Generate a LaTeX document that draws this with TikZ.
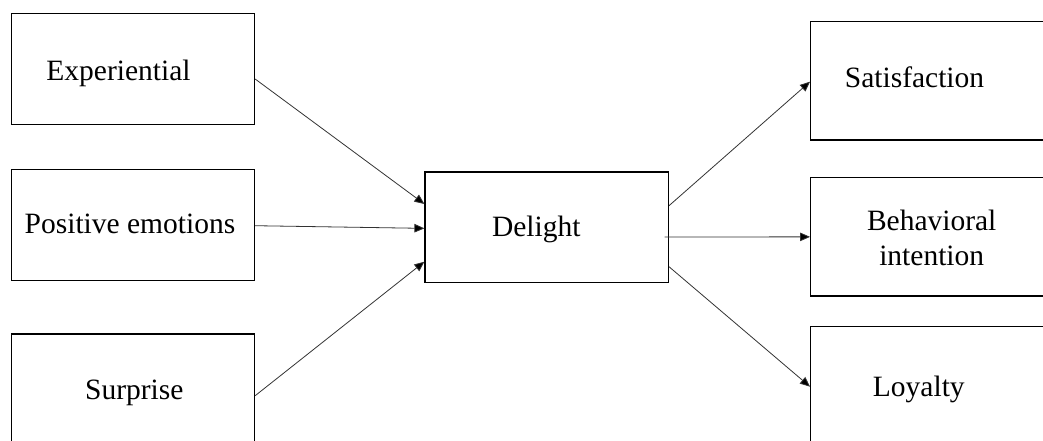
\documentclass[tikz,border=0pt]{standalone}
\usepackage{fontspec}
\setmainfont{Liberation Serif}
\usetikzlibrary{arrows.meta}
\begin{document}
\begin{tikzpicture}[x=1pt,y=-1pt,
  box/.style={draw=black,line width=1.3pt,rectangle,inner sep=0pt},
  lbl/.style={anchor=base,inner sep=0pt,font=\fontsize{29.5pt}{34.3pt}\selectfont,align=center},
  conn/.style={draw=black!80,line width=0.8pt,-{Triangle[length=10pt,width=8.5pt,fill=black]}}]
\useasboundingbox (0,0) rectangle (1043,440);
\clip (0,0) rectangle (1043,440);
% boxes
\node[box,minimum width=243pt,minimum height=111pt] (exp) at (133,69.2) {};
\node[box,minimum width=243pt,minimum height=111pt] (pos) at (133,225.2) {};
\node[box,minimum width=243pt,minimum height=126pt] (sur) at (133,397) {};
\node[box,minimum width=243.3pt,minimum height=110.7pt] (del) at (546.7,227.35) {};
\node[box,minimum width=250pt,minimum height=118.7pt] (sat) at (935.7,80.65) {};
\node[box,minimum width=250pt,minimum height=118.3pt] (beh) at (935.7,236.85) {};
\node[box,minimum width=250pt,minimum height=133.3pt] (loy) at (935.7,393.35) {};
% labels
\node[lbl] (expt) at (118.5,80) {Experiential};
\node[lbl] (post) at (130,233) {Positive emotions};
\node[lbl] (surt) at (134.3,399.5) {Surprise};
\node[lbl] (delt) at (536.3,236) {Delight};
\node[lbl] (satt) at (914.5,87) {Satisfaction};
\node[lbl] (beht1) at (931.7,230.7) {Behavioral};
\node[lbl] (beht2) at (931.7,265) {intention};
\node[lbl] (loyt) at (918.8,396.7) {Loyalty};
% connectors
\draw[conn] ([yshift=-9.8pt]exp.east) -- ([yshift=23.35pt]del.west);
\draw[conn] ([yshift=-0.5pt]pos.east) -- ([yshift=-1pt]del.west);
\draw[conn] ([yshift=1.3pt]sur.east) -- ([yshift=-34.35pt]del.west);
\draw[conn] ([yshift=21.65pt]del.east) -- ([yshift=-1pt]sat.west);
\draw[conn] ([xshift=-4.5pt,yshift=-9.65pt]del.east) -- (beh.west);
\draw[conn] ([yshift=-39.35pt]del.east) -- ([yshift=6.65pt]loy.west);
\end{tikzpicture}
\end{document}
